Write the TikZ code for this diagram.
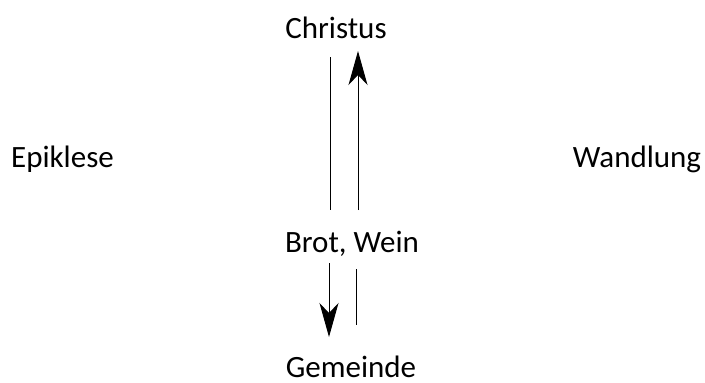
\documentclass[tikz,border=0pt]{standalone}
\usepackage{fontspec}
\setmainfont{Carlito}
\usetikzlibrary{arrows.meta}
\begin{document}
\begin{tikzpicture}[x=1pt,y=-1pt,
  lbl/.style={font=\fontsize{31}{37}\selectfont, inner sep=0pt, anchor=base},
  conn/.style={line width=1pt},
  arr/.style={line width=1pt, -{Stealth[length=34pt,width=19pt,inset=10pt]}}]
\useasboundingbox (0,0) rectangle (705,383);
\node[lbl] (christus) at (336,38) {Christus};
\node[lbl] (epiklese) at (62.5,167) {Epiklese};
\node[lbl] (wandlung) at (637,167) {Wandlung};
\node[lbl] (brot) at (352,252) {Brot, Wein};
\node[lbl] (gemeinde) at (351,377) {Gemeinde};
\coordinate (a1) at (330,57);
\coordinate (a2) at (330,210);
\coordinate (b1) at (358,210);
\coordinate (b2) at (358,51);
\coordinate (c1) at (329,263);
\coordinate (c2) at (329,337);
\coordinate (d1) at (356,269);
\coordinate (d2) at (356,325);
\draw[conn] (a1) -- (a2);
\draw[arr] (b1) -- (b2);
\draw[arr] (c1) -- (c2);
\draw[conn] (d1) -- (d2);
\end{tikzpicture}
\end{document}
